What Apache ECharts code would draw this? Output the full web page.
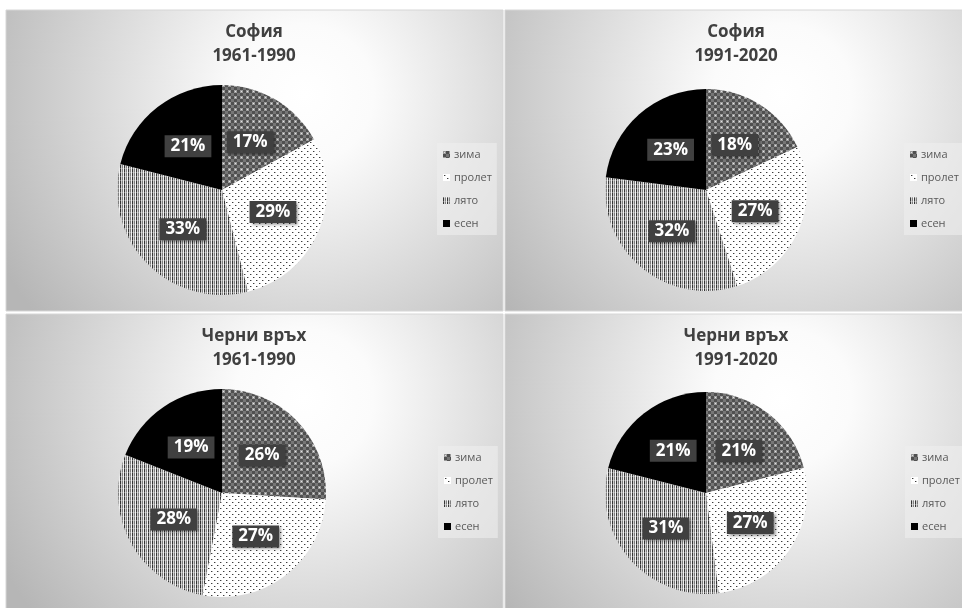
<!DOCTYPE html>
<html>
<head>
<meta charset="utf-8">
<script src="https://cdn.jsdelivr.net/npm/echarts@6/dist/echarts.min.js"></script>
<style>
  html, body { margin: 0; padding: 0; background: #ffffff; }
  #chart { width: 962px; height: 608px; }
</style>
</head>
<body>
<div id="chart"></div>
<script>
// Seasonal share of annual precipitation, %
const seasons = ['зима', 'пролет', 'лято', 'есен'];
const stations = ['София', 'София', 'Черни връх', 'Черни връх'];
const periods = ['1961-1990', '1991-2020', '1961-1990', '1991-2020'];
const sofia1961 = [17, 29, 33, 21];
const sofia1991 = [18, 27, 32, 23];
const cherni1961 = [26, 27, 28, 19];
const cherni1991 = [21, 27, 31, 21];
const panelValues = [sofia1961, sofia1991, cherni1961, cherni1991];

// Fill patterns for the four seasons, drawn on small repeating tiles
function tile(w, h, draw) {
  const c = document.createElement('canvas');
  c.width = w; c.height = h;
  draw(c.getContext('2d'));
  return c;
}
const winterTile = tile(6, 6, g => {
  g.fillStyle = '#505050'; g.fillRect(0, 0, 6, 6);
  g.fillStyle = '#9c9c9c'; g.fillRect(0, 0, 3, 3);
  g.fillStyle = '#e2e2e2'; g.fillRect(1, 1, 1, 1);
  g.fillStyle = '#767676'; g.fillRect(3, 3, 3, 3);
});
const springTile = tile(6, 6, g => {
  g.fillStyle = '#ffffff'; g.fillRect(0, 0, 6, 6);
  g.fillStyle = '#3c3c3c'; g.fillRect(1, 1, 1, 1); g.fillRect(4, 4, 1, 1);
  g.fillStyle = '#b4b4b4'; g.fillRect(2, 1, 1, 1); g.fillRect(5, 4, 1, 1);
});
const summerTile = tile(4, 4, g => {
  const cols = ['#353535', '#cfcfcf', '#7e7e7e', '#f0f0f0'];
  cols.forEach((col, i) => { g.fillStyle = col; g.fillRect(i, 0, 1, 4); });
  g.fillStyle = 'rgba(255,255,255,0.3)'; g.fillRect(0, 0, 4, 1);
});
const seasonFills = [
  { image: winterTile, repeat: 'repeat' },
  { image: springTile, repeat: 'repeat' },
  { image: summerTile, repeat: 'repeat' },
  '#000000'
];

// Panel geometry
const panels = [
  { x: 6,   y: 10,  w: 497, h: 301, cx: 222, cy: 190, r: 105, tx: 254, legX: 437, legY: 143 },
  { x: 505, y: 10,  w: 462, h: 301, cx: 706, cy: 190, r: 101, tx: 736, legX: 904, legY: 143 },
  { x: 6,   y: 314, w: 497, h: 300, cx: 222, cy: 493, r: 104, tx: 254, legX: 438, legY: 446 },
  { x: 505, y: 314, w: 462, h: 300, cx: 706, cy: 493, r: 101, tx: 736, legX: 905, legY: 446 }
];

const graphics = [];
panels.forEach((p, i) => {
  graphics.push({
    type: 'rect', z: -10,
    shape: { x: p.x, y: p.y, width: p.w, height: p.h },
    style: {
      fill: {
        type: 'radial', x: 0.6, y: 0.28, r: 1.15,
        colorStops: [
          { offset: 0, color: '#ffffff' },
          { offset: 0.2, color: '#fbfbfb' },
          { offset: 1, color: '#b6b6b6' }
        ]
      },
      stroke: '#d6d6d6', lineWidth: 1
    }
  });
  graphics.push({
    type: 'text', z: 5,
    x: p.tx, y: p.y + 10,
    style: {
      text: stations[i] + '\n' + periods[i],
      font: 'bold 17px "Open Sans"',
      fill: '#404040',
      align: 'center',
      verticalAlign: 'top',
      lineHeight: 24
    }
  });
});

const series = panels.map((p, i) => ({
  type: 'pie',
  center: [p.cx, p.cy],
  radius: p.r,
  startAngle: 90,
  clockwise: true,
  avoidLabelOverlap: false,
  emphasis: { scale: false },
  itemStyle: { borderWidth: 0 },
  labelLine: { show: false },
  label: {
    show: true,
    position: 'inside',
    formatter: d => d.value + '%',
    color: '#ffffff',
    fontFamily: 'Open Sans',
    fontWeight: 'bold',
    fontSize: 17,
    backgroundColor: '#404040',
    padding: [3, 6, 2, 6],
    shadowColor: 'rgba(0,0,0,0.45)',
    shadowBlur: 3,
    shadowOffsetX: 2,
    shadowOffsetY: 2
  },
  data: seasons.map((s, k) => ({
    name: s,
    value: panelValues[i][k],
    itemStyle: { color: seasonFills[k] }
  }))
}));

const legends = panels.map(p => ({
  orient: 'vertical',
  left: p.legX,
  top: p.legY,
  data: seasons,
  icon: 'rect',
  itemWidth: 7,
  itemHeight: 7,
  itemGap: 12,
  padding: [6, 5, 6, 6],
  backgroundColor: 'rgba(238,238,238,0.6)',
  textStyle: { color: '#595959', fontSize: 11, fontFamily: 'Open Sans', padding: [0, 0, 0, -1] }
}));

const chart = echarts.init(document.getElementById('chart'), null, { renderer: 'canvas' });
chart.setOption({
  backgroundColor: '#ffffff',
  animation: false,
  graphic: graphics,
  legend: legends,
  series: series
});
</script>
</body>
</html>
